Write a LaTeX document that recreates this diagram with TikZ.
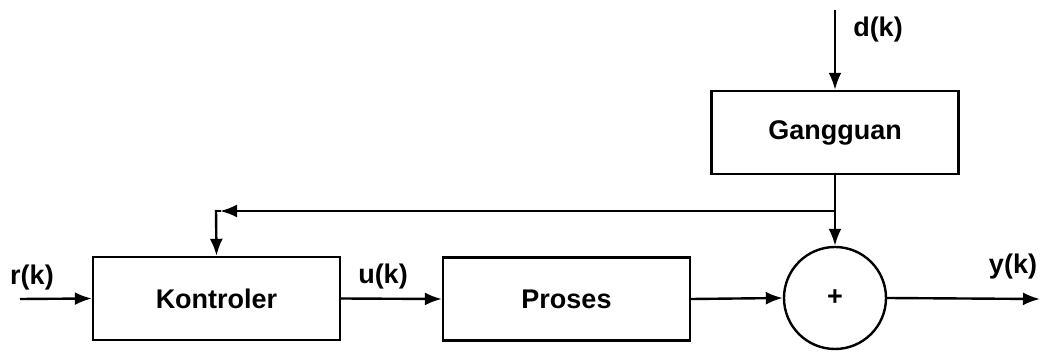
\documentclass[tikz,border=0pt]{standalone}
\usepackage{fontspec}
\setmainfont{Liberation Sans}
\usetikzlibrary{arrows.meta}
\begin{document}
\begin{tikzpicture}[x=0.5pt,y=-0.5pt,
  font=\fontsize{13.5}{16}\selectfont\bfseries,
  line width=1.2pt,
  block/.style={draw,rectangle,minimum width=123.5pt,minimum height=41.5pt,inner sep=0pt},
  sumnode/.style={draw,circle,minimum size=51pt,inner sep=0pt},
  arr/.style={-{Latex[length=8.5pt,width=6.5pt]}},
  lbl/.style={inner sep=0pt}]
  \useasboundingbox (0,0) rectangle (1046,352);

  % blocks
  \node[block] (kon) at (216.5,298.5) {Kontroler};
  \node[block] (pro) at (566.5,299) {Proses};
  \node[block] (gang) at (835,132.5) {Gangguan};
  \node[sumnode] (sum) at (835,298) {+};

  % free ends and bends
  \coordinate (rin) at (20,299);
  \coordinate (dtop) at (835,10);
  \coordinate (j) at (835,211);
  \coordinate (c) at (216,211);
  \coordinate (yout) at (1040,299);

  % connectors
  \draw[arr] (rin) -- (kon.west);
  \draw[arr] (kon.east) -- (pro.west);
  \draw[arr] (pro.east) -- (sum.west);
  \draw[arr] (sum.east) -- (yout);
  \draw[arr] (dtop) -- (gang.north);
  \draw (gang.south) -- (j);
  \draw[arr] (j) -- (sum.north);
  % feedback branch: left to the bend, then down into the controller
  \draw[arr,shorten >=2pt] (j) -- (c);
  \draw ([xshift=-0.6pt]c) -- ++(6,0);
  \draw[arr] ([yshift=0.6pt]c) -- (kon.north);

  % signal labels
  \node[lbl] (rk) at (32,278) {r(k)};
  \node[lbl] (uk) at (383,277) {u(k)};
  \node[lbl] (yk) at (1013,267) {y(k)};
  \node[lbl] (dk) at (878,30) {d(k)};
\end{tikzpicture}
\end{document}
